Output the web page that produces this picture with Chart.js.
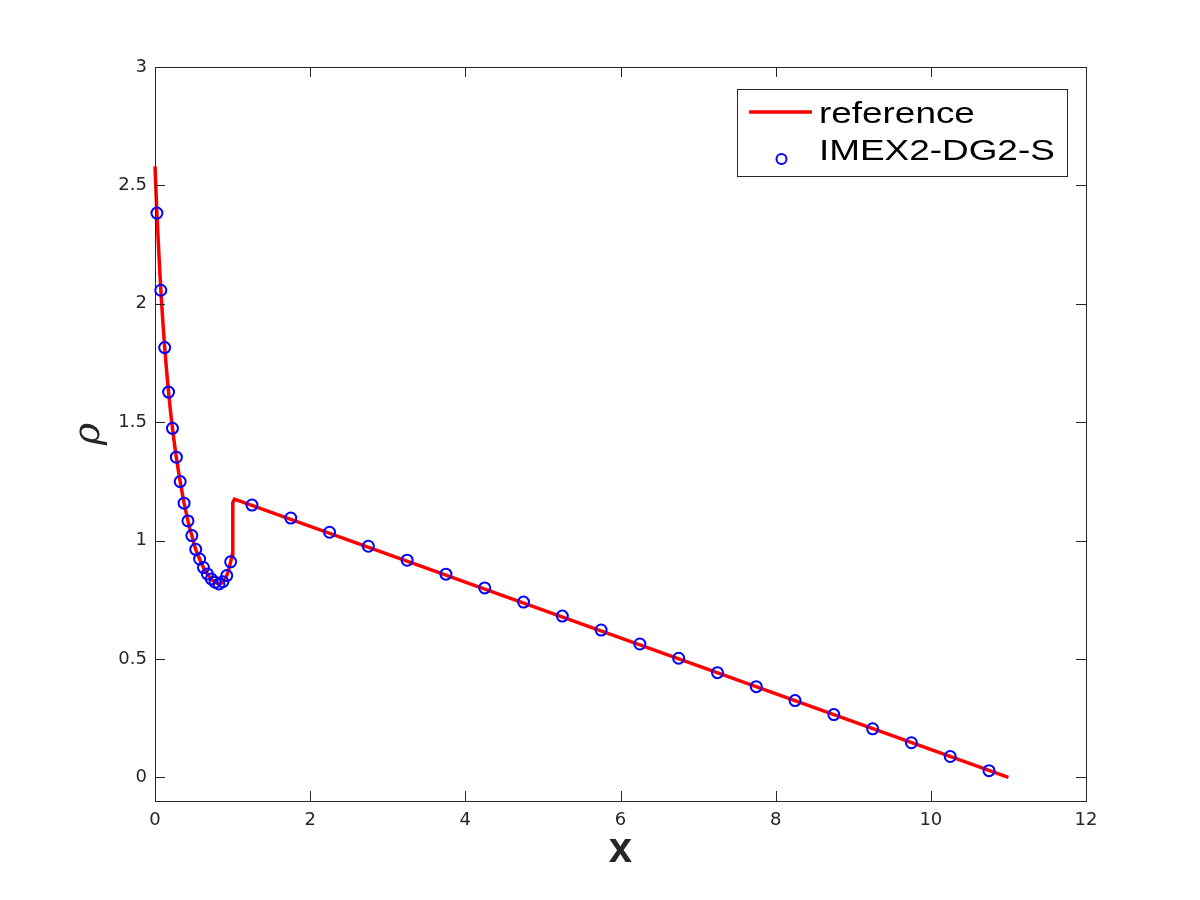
<!DOCTYPE html>
<html>
<head>
<meta charset="utf-8">
<script src="https://cdn.jsdelivr.net/npm/chart.js@4.4.0/dist/chart.umd.min.js"></script>
<style>
  html, body { margin: 0; padding: 0; background: #fff; }
  canvas { display: block; }
</style>
</head>
<body>
<canvas id="rhoChart" width="1200" height="900"></canvas>
<script>
// reference solution (red line)
const refX = [0, 0.025, 0.05, 0.075, 0.1, 0.125, 0.15, 0.175, 0.2, 0.225, 0.25, 0.275, 0.3, 0.325,
  0.35, 0.375, 0.4, 0.425, 0.45, 0.475, 0.5, 0.525, 0.55, 0.575, 0.6, 0.625, 0.65, 0.675, 0.7,
  0.725, 0.75, 0.775, 0.8, 0.825, 0.85, 0.875, 0.9, 0.925, 0.95, 0.975, 0.995, 1.0, 1.005, 1.025, 11];
const refY = [2.58, 2.38, 2.21, 2.06, 1.93, 1.815, 1.715, 1.627, 1.545, 1.474, 1.41, 1.352, 1.298, 1.249,
  1.202, 1.158, 1.12, 1.083, 1.05, 1.021, 0.99, 0.963, 0.941, 0.922, 0.903, 0.886, 0.871, 0.859, 0.848,
  0.838, 0.83, 0.824, 0.819, 0.817, 0.818, 0.826, 0.836, 0.852, 0.876, 0.91, 0.94, 1.08, 1.16, 1.175, 0];

// IMEX2-DG2-S numerical solution (blue circles)
const numX = [0.025, 0.075, 0.125, 0.175, 0.225, 0.275, 0.325, 0.375, 0.425, 0.475, 0.525, 0.575,
  0.625, 0.675, 0.725, 0.775, 0.825, 0.875, 0.925, 0.975,
  1.25, 1.75, 2.25, 2.75, 3.25, 3.75, 4.25, 4.75, 5.25, 5.75, 6.25, 6.75, 7.25, 7.75, 8.25, 8.75,
  9.25, 9.75, 10.25, 10.75];
const numY = [2.383, 2.057, 1.815, 1.627, 1.474, 1.352, 1.249, 1.158, 1.083, 1.021, 0.963, 0.922,
  0.886, 0.859, 0.838, 0.824, 0.817, 0.826, 0.852, 0.910,
  1.150, 1.095, 1.035, 0.976, 0.917, 0.858, 0.800, 0.740, 0.681, 0.622, 0.563, 0.503, 0.442, 0.383,
  0.324, 0.265, 0.205, 0.146, 0.088, 0.028];

const xTicks = [0, 2, 4, 6, 8, 10, 12];
const yTicks = [0, 0.5, 1, 1.5, 2, 2.5, 3];

const axisColor = '#262626';

// box, inward ticks on all four sides, and the legend
const framePlugin = {
  id: 'frame',
  afterDatasetsDraw(chart) {
    const { ctx, chartArea: a, scales: { x, y } } = chart;
    ctx.save();
    ctx.strokeStyle = axisColor;
    ctx.lineWidth = 1;
    ctx.strokeRect(Math.round(a.left) + 0.5, Math.round(a.top) + 0.5,
      Math.round(a.right - a.left), Math.round(a.bottom - a.top));
    ctx.beginPath();
    xTicks.forEach(v => {
      const px = Math.round(x.getPixelForValue(v)) + 0.5;
      ctx.moveTo(px, a.bottom); ctx.lineTo(px, a.bottom - 10);
      ctx.moveTo(px, a.top); ctx.lineTo(px, a.top + 10);
    });
    yTicks.forEach(v => {
      const py = Math.round(y.getPixelForValue(v)) + 0.5;
      ctx.moveTo(a.left, py); ctx.lineTo(a.left + 10, py);
      ctx.moveTo(a.right, py); ctx.lineTo(a.right - 10, py);
    });
    ctx.stroke();

    // legend
    const ds = chart.data.datasets;
    ctx.fillStyle = '#fff';
    ctx.fillRect(737, 89, 330, 87);
    ctx.strokeStyle = axisColor;
    ctx.strokeRect(737.5, 89.5, 330, 87);

    ctx.strokeStyle = ds[0].borderColor;
    ctx.lineWidth = 3.5;
    ctx.beginPath();
    ctx.moveTo(749, 112); ctx.lineTo(812, 112);
    ctx.stroke();

    ctx.strokeStyle = ds[1].borderColor;
    ctx.lineWidth = 2;
    ctx.beginPath();
    ctx.arc(781.5, 159, 5, 0, Math.PI * 2);
    ctx.stroke();

    ctx.fillStyle = '#000';
    ctx.font = '30px "Liberation Sans", Arial, sans-serif';
    ctx.textBaseline = 'alphabetic';
    [[ds[0].label, 123], [ds[1].label, 160]].forEach(([txt, by]) => {
      ctx.save();
      ctx.translate(819, by);
      ctx.scale(1.23, 1);
      ctx.fillText(txt, 0, 0);
      ctx.restore();
    });
    ctx.restore();
  }
};

new Chart(document.getElementById('rhoChart'), {
  type: 'scatter',
  data: {
    datasets: [
      {
        type: 'line',
        label: 'reference',
        data: refX.map((v, i) => ({ x: v, y: refY[i] })),
        borderColor: '#ff0000',
        borderWidth: 3.5,
        pointRadius: 0,
        tension: 0,
        fill: false,
        clip: false,
        order: 1
      },
      {
        label: 'IMEX2-DG2-S',
        data: numX.map((v, i) => ({ x: v, y: numY[i] })),
        borderColor: '#0000ff',
        backgroundColor: 'rgba(0,0,0,0)',
        borderWidth: 2,
        pointRadius: 5.5,
        pointStyle: 'circle',
        clip: false,
        order: 0
      }
    ]
  },
  options: {
    responsive: false,
    animation: false,
    layout: { padding: { left: 0, top: 67, right: 114, bottom: 0 } },
    plugins: {
      legend: { display: false },
      tooltip: { enabled: false }
    },
    scales: {
      x: {
        type: 'linear',
        min: 0,
        max: 12,
        afterBuildTicks: s => { s.ticks = xTicks.map(v => ({ value: v })); },
        afterFit: s => { s.height = 99; },
        grid: { display: false, drawTicks: false },
        border: { display: false },
        ticks: {
          padding: 9,
          color: axisColor,
          font: { family: '"DejaVu Sans", sans-serif', size: 18 },
          callback: v => String(v)
        },
        title: {
          display: true,
          text: 'x',
          color: axisColor,
          font: { family: '"Liberation Sans", Arial, sans-serif', size: 42, weight: 'bold' },
          padding: { top: 0, bottom: 24 }
        }
      },
      y: {
        type: 'linear',
        min: -0.1,
        max: 3,
        afterBuildTicks: s => { s.ticks = yTicks.map(v => ({ value: v })); },
        afterFit: s => { s.width = 155; },
        grid: { display: false, drawTicks: false },
        border: { display: false },
        ticks: {
          padding: 8,
          color: axisColor,
          font: { family: '"DejaVu Sans", sans-serif', size: 18 },
          callback: v => String(v)
        },
        title: {
          display: true,
          text: 'ρ',
          color: axisColor,
          font: { family: '"DejaVu Serif", serif', size: 38, style: 'italic' },
          padding: { top: 66, bottom: 0 }
        }
      }
    }
  },
  plugins: [framePlugin]
});
</script>
</body>
</html>
